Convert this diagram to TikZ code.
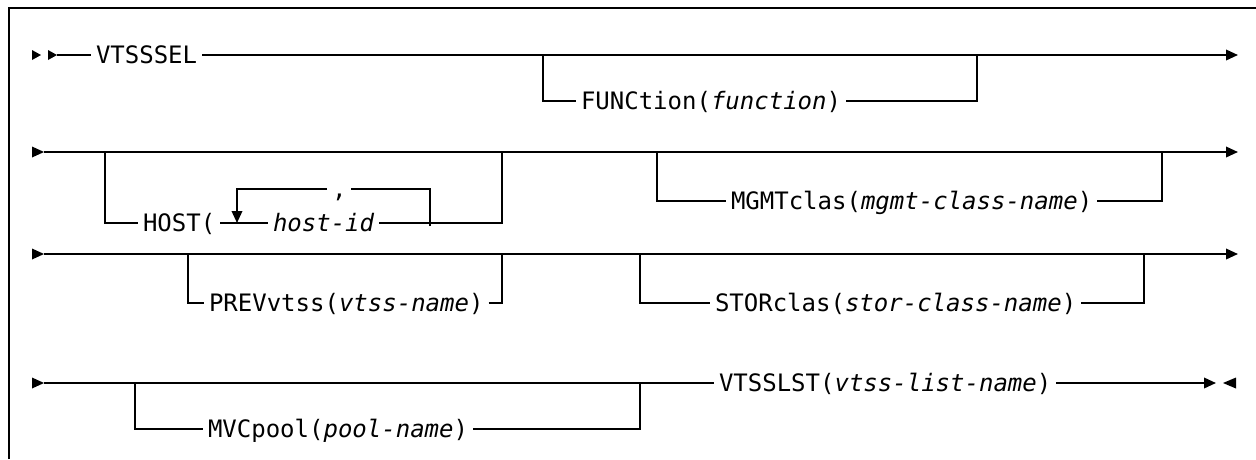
\documentclass[tikz,border=0pt]{standalone}
\usepackage{fontspec}
\setmonofont{DejaVu Sans Mono}
\usetikzlibrary{arrows.meta}
\begin{document}
\begin{tikzpicture}[x=1pt,y=-1pt,line width=2pt,
  lbl/.style={font=\ttfamily\fontsize{24}{28}\selectfont, inner xsep=4pt, inner ysep=0pt,
              text height=16pt, text depth=0pt, anchor=west},
  arr/.style={-{Triangle[length=12pt,width=10.5pt]}}]
\useasboundingbox (0,0) rectangle (1256,459);
% frame
\draw[line width=2.2pt] (9,459) -- (9,8) -- (1256,8);

% ---------- row 1 ----------
\fill (32,50) -- (41,55) -- (32,60) -- cycle;
\fill (48,50) -- (57,55) -- (48,60) -- cycle;
\coordinate (r1s) at (57,55);
\coordinate (r1e) at (1238,55);
\node[lbl] (vts) at (91,55) {VTSSSEL};
\coordinate (f1) at (543,55);
\coordinate (f2) at (977,55);
\node[lbl] (func) at (576,101) {FUNCtion(\textit{function})};
\draw (r1s) -- (vts.west);
\draw[arr] (vts.east) -- (r1e);
\draw (f1) |- (func.west);
\draw (func.east) -| (f2);

% ---------- row 2 ----------
\fill (32,146.5) -- (44,152) -- (32,157.5) -- cycle;
\coordinate (r2s) at (44,152);
\coordinate (r2e) at (1238,152);
\draw[arr] (r2s) -- (r2e);
\coordinate (h1) at (105,152);
\coordinate (h2) at (502,152);
\node[lbl] (host) at (138,223) {HOST(};
\node[lbl] (hid) at (268,223) {\textit{host-id}};
\coordinate (lp1) at (237,223);
\coordinate (lp2) at (430,226);
\coordinate (lt1) at (237,189);
\coordinate (lt2) at (430,189);
\node[lbl] (comma) at (327,189) {,};
\draw (h1) |- (host.west);
\draw (host.east) -- (hid.west);
\draw (hid.east) -| (h2);
\draw (lp2) -- (lt2) -- (comma.east);
\draw[arr] (comma.west) -- (lt1) -- (lp1);
\coordinate (m1) at (657,152);
\coordinate (m2) at (1162,152);
\node[lbl] (mgmt) at (726,201) {MGMTclas(\textit{mgmt-class-name})};
\draw (m1) |- (mgmt.west);
\draw (mgmt.east) -| (m2);

% ---------- row 3 ----------
\fill (32,248.5) -- (44,254) -- (32,259.5) -- cycle;
\coordinate (r3s) at (44,254);
\coordinate (r3e) at (1238,254);
\draw[arr] (r3s) -- (r3e);
\coordinate (p1) at (188,254);
\coordinate (p2) at (502,254);
\node[lbl] (prev) at (204,303) {PREVvtss(\textit{vtss-name})};
\draw (p1) |- (prev.west);
\draw (prev.east) -| (p2);
\coordinate (st1) at (640,254);
\coordinate (st2) at (1144,254);
\node[lbl] (stor) at (710,303) {STORclas(\textit{stor-class-name})};
\draw (st1) |- (stor.west);
\draw (stor.east) -| (st2);

% ---------- row 4 ----------
\fill (32,377.5) -- (44,383) -- (32,388.5) -- cycle;
\coordinate (r4s) at (44,383);
\node[lbl] (vtsl) at (714,383) {VTSSLST(\textit{vtss-list-name})};
\coordinate (r4e) at (1216,383);
\draw (r4s) -- (vtsl.west);
\draw[arr] (vtsl.east) -- (r4e);
\fill (1236,377.5) -- (1223,383) -- (1236,388.5) -- cycle;
\coordinate (mv1) at (135,383);
\coordinate (mv2) at (640,383);
\node[lbl] (mvc) at (203,429) {MVCpool(\textit{pool-name})};
\draw (mv1) |- (mvc.west);
\draw (mvc.east) -| (mv2);
\end{tikzpicture}
\end{document}
